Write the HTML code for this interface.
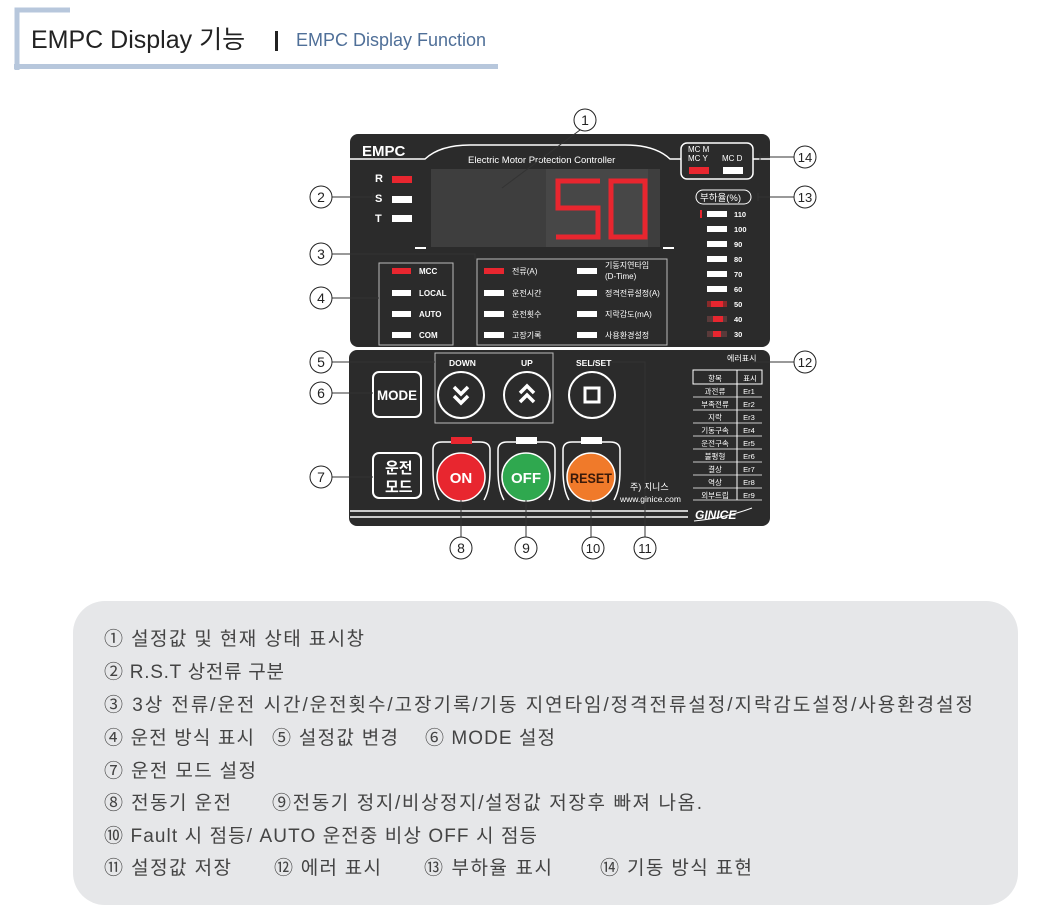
<!DOCTYPE html>
<html><head><meta charset="utf-8"><style>
html,body{margin:0;padding:0;background:#fff;}
svg{display:block;}
text{font-family:"Liberation Sans","Noto Sans CJK KR",sans-serif;}
</style></head><body>
<svg width="1056" height="919" viewBox="0 0 1056 919" xmlns="http://www.w3.org/2000/svg">
<!-- header -->
<path d="M17 70 V10 H70" fill="none" stroke="#b7c7dc" stroke-width="5"/>
<rect x="14" y="64" width="484" height="5" fill="#b7c7dc"/>
<text x="31" y="48" font-size="25" fill="#222">EMPC Display 기능</text>
<rect x="275" y="31" width="3" height="20" fill="#222"/>
<text x="296" y="46" font-size="18" fill="#4f6f98">EMPC Display Function</text>

<!-- upper panel -->
<rect x="350" y="134" width="420" height="213" rx="8" fill="#2b2b2b"/>
<text x="362" y="156" font-size="15" font-weight="bold" fill="#fff">EMPC</text>
<path d="M350 159 H425 Q440 145 470 145 H625 Q655 145 670 159 H681" fill="none" stroke="#fff" stroke-width="1.5"/>
<path d="M753 159 H770" stroke="#fff" stroke-width="1.5"/>
<text x="468" y="163" font-size="9.5" fill="#fff">Electric Motor Protection Controller</text>
<rect x="681" y="143" width="72" height="36" rx="6" fill="none" stroke="#fff" stroke-width="1.5"/>
<text x="688" y="152" font-size="8" fill="#fff">MC M</text>
<text x="688" y="161" font-size="8" fill="#fff">MC Y</text>
<text x="722" y="161" font-size="8" fill="#fff">MC D</text>
<rect x="689" y="167" width="20" height="7" fill="#e8262f"/>
<rect x="723" y="167" width="20" height="7" fill="#fff"/>
<!-- display -->
<rect x="431" y="169" width="229" height="78" fill="#3e3e3e"/>
<rect x="546" y="169" width="102" height="78" fill="#474747"/>
<g stroke="#e8262f" stroke-width="5" fill="none" stroke-linecap="butt">
<path d="M600 181 H558 V208 H598 V237 H556"/>
<path d="M611 181 H645 V237 H611 Z"/>
</g>
<rect x="415" y="247" width="11" height="2" fill="#fff"/>
<rect x="663" y="247" width="11" height="2" fill="#fff"/>
<!-- RST -->
<g font-size="11" font-weight="bold" fill="#fff">
<text x="375" y="182">R</text><text x="375" y="202">S</text><text x="375" y="222">T</text></g>
<rect x="392" y="176" width="20" height="7" fill="#e8262f"/>
<rect x="392" y="196" width="20" height="7" fill="#fff"/>
<rect x="392" y="215" width="20" height="7" fill="#fff"/>
<!-- box 4 -->
<rect x="379" y="263" width="74" height="82" fill="none" stroke="#bbb" stroke-width="1"/>
<g font-size="8" font-weight="bold" fill="#fff">
<rect x="392" y="268" width="19" height="6" fill="#e8262f"/><text x="419" y="274">MCC</text>
<rect x="392" y="290" width="19" height="6"/><text x="419" y="296">LOCAL</text>
<rect x="392" y="311" width="19" height="6"/><text x="419" y="317">AUTO</text>
<rect x="392" y="332" width="19" height="6"/><text x="419" y="338">COM</text>
</g>
<!-- box 3 -->
<rect x="477" y="259" width="190" height="86" fill="none" stroke="#bbb" stroke-width="1"/>
<g font-size="8" fill="#fff">
<rect x="484" y="268" width="20" height="6" fill="#e8262f"/><text x="512" y="274">전류(A)</text>
<rect x="484" y="290" width="20" height="6"/><text x="512" y="296">운전시간</text>
<rect x="484" y="311" width="20" height="6"/><text x="512" y="317">운전횟수</text>
<rect x="484" y="332" width="20" height="6"/><text x="512" y="338">고장기록</text>
<rect x="577" y="268" width="20" height="6"/><text x="605" y="268">기동지연타임</text><text x="605" y="279">(D-Time)</text>
<rect x="577" y="290" width="20" height="6"/><text x="605" y="296">정격전류설정(A)</text>
<rect x="577" y="311" width="20" height="6"/><text x="605" y="317">지락감도(mA)</text>
<rect x="577" y="332" width="20" height="6"/><text x="605" y="338">사용환경설정</text>
</g>
<!-- load bar -->
<rect x="696" y="190" width="55" height="14" rx="7" fill="none" stroke="#fff" stroke-width="1"/>
<text x="700" y="201" font-size="9.5" fill="#fff">부하율(%)</text>
<rect x="700" y="210" width="2" height="8" fill="#e8262f"/>
<g font-size="7.5" font-weight="bold" fill="#fff">
<rect x="707" y="211" width="20" height="6"/><text x="734" y="217">110</text>
<rect x="707" y="226" width="20" height="6"/><text x="734" y="232">100</text>
<rect x="707" y="241" width="20" height="6"/><text x="734" y="247">90</text>
<rect x="707" y="256" width="20" height="6"/><text x="734" y="262">80</text>
<rect x="707" y="271" width="20" height="6"/><text x="734" y="277">70</text>
<rect x="707" y="286" width="20" height="6"/><text x="734" y="292">60</text>
<rect x="707" y="301" width="20" height="6" fill="#8a2a2a"/><rect x="711" y="301" width="12" height="6" fill="#e8262f"/><text x="734" y="307">50</text>
<rect x="707" y="316" width="20" height="6" fill="#5a3a3a"/><rect x="713" y="316" width="10" height="6" fill="#e8262f"/><text x="734" y="322">40</text>
<rect x="707" y="331" width="20" height="6" fill="#5a3a3a"/><rect x="713" y="331" width="8" height="6" fill="#e8262f"/><text x="734" y="337">30</text>
</g>

<!-- lower panel -->
<rect x="349" y="350" width="421" height="176" rx="8" fill="#2b2b2b"/>
<rect x="435" y="353" width="118" height="70" fill="none" stroke="#bbb" stroke-width="1"/>
<g font-size="8.5" font-weight="bold" fill="#fff">
<text x="449" y="366">DOWN</text><text x="521" y="366">UP</text><text x="576" y="366">SEL/SET</text>
</g>
<g fill="none" stroke="#fff" stroke-width="2">
<circle cx="461" cy="395" r="23"/><circle cx="527" cy="395" r="23"/><circle cx="592" cy="395" r="23"/>
<rect x="373" y="372" width="48" height="45" rx="6"/>
<rect x="373" y="453" width="48" height="45" rx="6"/>
</g>
<g fill="none" stroke="#fff" stroke-width="3.5">
<path d="M454 387 L461 394 L468 387 M454 396 L461 403 L468 396"/>
<path d="M520 393 L527 386 L534 393 M520 402 L527 395 L534 402"/>
</g>
<rect x="585" y="388" width="14" height="14" fill="none" stroke="#fff" stroke-width="3"/>
<text x="397" y="400" font-size="14" font-weight="bold" fill="#fff" text-anchor="middle" textLength="40" lengthAdjust="spacingAndGlyphs">MODE</text>
<text x="385" y="473" font-size="15" font-weight="bold" fill="#fff">운전</text>
<text x="385" y="492" font-size="15" font-weight="bold" fill="#fff">모드</text>
<!-- big buttons -->
<g fill="none" stroke="#fff" stroke-width="1.5">
<path d="M439 500 Q433 490 433 470 V450 Q433 442 442 442 H480 Q490 442 490 450 V470 Q490 490 484 500"/>
<path d="M504 500 Q498 490 498 470 V450 Q498 442 507 442 H545 Q555 442 555 450 V470 Q555 490 549 500"/>
<path d="M569 500 Q563 490 563 470 V450 Q563 442 572 442 H610 Q620 442 620 450 V470 Q620 490 614 500"/>
</g>
<rect x="451" y="437" width="21" height="7" fill="#e8262f"/>
<rect x="516" y="437" width="21" height="7" fill="#fff"/>
<rect x="581" y="437" width="21" height="7" fill="#fff"/>
<circle cx="461" cy="477" r="24" fill="#e8262f" stroke="#fff" stroke-width="1.5"/>
<circle cx="526" cy="477" r="24" fill="#2fa84f" stroke="#fff" stroke-width="1.5"/>
<circle cx="591" cy="477" r="24" fill="#f07a2a" stroke="#fff" stroke-width="1.5"/>
<text x="461" y="483" font-size="15" font-weight="bold" fill="#fff" text-anchor="middle">ON</text>
<text x="526" y="483" font-size="15" font-weight="bold" fill="#fff" text-anchor="middle">OFF</text>
<text x="591" y="483" font-size="14" font-weight="bold" fill="#3a1a0a" text-anchor="middle" textLength="42" lengthAdjust="spacingAndGlyphs">RESET</text>
<text x="630" y="490" font-size="9" fill="#fff">주) 지니스</text>
<text x="620" y="502" font-size="8.5" fill="#fff">www.ginice.com</text>
<path d="M350 511 H688 M350 517 H688" stroke="#fff" stroke-width="1.5"/>
<text x="695" y="519" font-size="12" font-style="italic" font-weight="bold" fill="#fff">GINICE</text>
<path d="M694 521 Q725 518 752 508" fill="none" stroke="#fff" stroke-width="1"/>
<!-- error table -->
<text x="727" y="361" font-size="8" fill="#fff">에러표시</text>
<rect x="693" y="370" width="69" height="14" fill="none" stroke="#fff" stroke-width="1"/>
<path d="M737 370 V500" stroke="#fff" stroke-width="1"/>
<g stroke="#fff" stroke-width="0.8">
<path d="M693 397 H762 M693 410 H762 M693 423 H762 M693 436 H762 M693 449 H762 M693 462 H762 M693 475 H762 M693 488 H762 M693 500 H762"/>
</g>
<g font-size="7.5" fill="#fff" text-anchor="middle">
<text x="715" y="381">항목</text><text x="750" y="381">표시</text>
<text x="715" y="394">과전류</text><text x="749" y="394">Er1</text>
<text x="715" y="407">부족전류</text><text x="749" y="407">Er2</text>
<text x="715" y="420">지락</text><text x="749" y="420">Er3</text>
<text x="715" y="433">기동구속</text><text x="749" y="433">Er4</text>
<text x="715" y="446">운전구속</text><text x="749" y="446">Er5</text>
<text x="715" y="459">불평형</text><text x="749" y="459">Er6</text>
<text x="715" y="472">결상</text><text x="749" y="472">Er7</text>
<text x="715" y="485">역상</text><text x="749" y="485">Er8</text>
<text x="715" y="498">외부트립</text><text x="749" y="498">Er9</text>
</g>

<!-- leader lines -->
<g fill="none" stroke="#333" stroke-width="1">
<path d="M580 130 L502 188"/>
<path d="M332 197 H373 M373 193 V201"/>
<path d="M332 254 H475 V259"/>
<path d="M332 298 H379"/>
<path d="M332 362 H435"/>
<path d="M332 393 H373"/>
<path d="M332 477 H373"/>
<path d="M461 500 V537 M526 500 V537 M591 500 V537"/>
<path d="M612 362 H645 V537"/>
<path d="M752 362 H794"/>
<path d="M758 197 H794 M758 193 V201"/>
<path d="M760 157 H794 M760 153 V161"/>
</g>
<g fill="#fff" stroke="#222" stroke-width="1">
<circle cx="585" cy="120" r="11"/><circle cx="321" cy="197" r="11"/><circle cx="321" cy="254" r="11"/>
<circle cx="321" cy="298" r="11"/><circle cx="321" cy="362" r="11"/><circle cx="321" cy="393" r="11"/>
<circle cx="321" cy="477" r="11"/><circle cx="461" cy="548" r="11"/><circle cx="526" cy="548" r="11"/>
<circle cx="593" cy="548" r="11"/><circle cx="645" cy="548" r="11"/><circle cx="805" cy="362" r="11"/>
<circle cx="805" cy="197" r="11"/><circle cx="805" cy="157" r="11"/>
</g>
<g font-size="14" fill="#222" text-anchor="middle">
<text x="585" y="125">1</text><text x="321" y="202">2</text><text x="321" y="259">3</text>
<text x="321" y="303">4</text><text x="321" y="367">5</text><text x="321" y="398">6</text>
<text x="321" y="482">7</text><text x="461" y="553">8</text><text x="526" y="553">9</text>
<text x="593" y="553" font-size="13">10</text><text x="645" y="553" font-size="13">11</text><text x="805" y="367" font-size="13">12</text>
<text x="805" y="202" font-size="13">13</text><text x="805" y="162" font-size="13">14</text>
</g>

<!-- description box -->
<rect x="73" y="601" width="945" height="304" rx="32" fill="#e6e7e9"/>
<g font-size="19" fill="#444">
<text x="104" y="645" textLength="260">① 설정값 및 현재 상태 표시창</text>
<text x="104" y="678" textLength="180">② R.S.T 상전류 구분</text>
<text x="104" y="711" textLength="869">③ 3상 전류/운전 시간/운전횟수/고장기록/기동 지연타임/정격전류설정/지락감도설정/사용환경설정</text>
<text x="104" y="744" textLength="150">④ 운전 방식 표시</text>
<text x="272" y="744" textLength="126">⑤ 설정값 변경</text>
<text x="425" y="744" textLength="130">⑥ MODE 설정</text>
<text x="104" y="777" textLength="152">⑦ 운전 모드 설정</text>
<text x="104" y="809" textLength="127">⑧ 전동기 운전</text>
<text x="272" y="809" textLength="430">⑨전동기 정지/비상정지/설정값 저장후 빠져 나옴.</text>
<text x="104" y="842" textLength="433">⑩ Fault 시 점등/ AUTO 운전중 비상 OFF 시 점등</text>
<text x="104" y="874" textLength="127">⑪ 설정값 저장</text>
<text x="274" y="874" textLength="107">⑫ 에러 표시</text>
<text x="424" y="874" textLength="128">⑬ 부하율 표시</text>
<text x="600" y="874" textLength="152">⑭ 기동 방식 표현</text>
</g>
</svg>
</body></html>
